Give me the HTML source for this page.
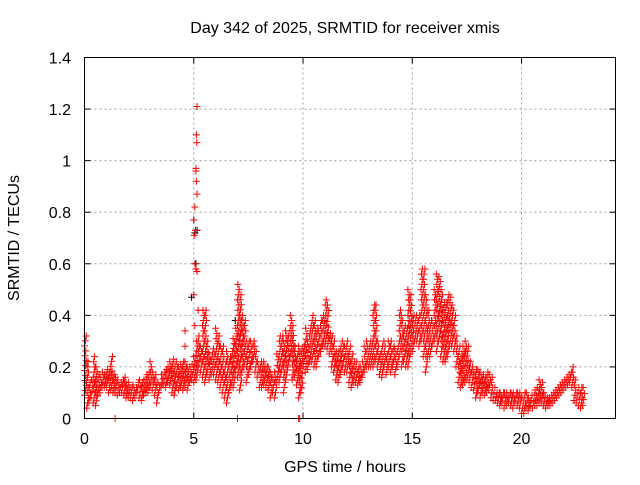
<!DOCTYPE html>
<html><head><meta charset="utf-8"><style>
body{margin:0;background:#fff}
svg text{font-family:"Liberation Sans",sans-serif;fill:#000}
</style></head><body>
<svg id="chart" width="640" height="480" viewBox="0 0 640 480" xmlns="http://www.w3.org/2000/svg">
<rect width="640" height="480" fill="#fff"/>
<text x="345" y="33" font-size="16" text-anchor="middle">Day 342 of 2025, SRMTID for receiver xmis</text>
<text transform="translate(19,238) rotate(-90)" font-size="16" text-anchor="middle">SRMTID / TECUs</text>
<text x="345" y="472" font-size="16" text-anchor="middle">GPS time / hours</text>
<g id="grid"></g><g id="ticks"></g><g id="marks"></g>
<rect x="84.5" y="57.5" width="531" height="361" fill="none" stroke="#000" stroke-width="1"/>
</svg>
<script>
const xTicks=[0,5,10,15,20];
const yTicks=[0,0.2,0.4,0.6,0.8,1,1.2,1.4];
const yTickLabels=["0","0.2","0.4","0.6","0.8","1","1.2","1.4"];
const hiVals=[.32,.22,.14,.15,.24,.2,.17,.16,.18,.17,
.19,.18,.24,.17,.16,.15,.14,.15,.16,.13,
.14,.12,.13,.12,.14,.15,.14,.15,.17,.18,
.22,.18,.17,.14,.12,.17,.18,.19,.2,.22,
.23,.2,.22,.2,.21,.22,.22,.2,.2,.21,
.24,.3,.32,.28,.42,.42,.3,.25,.25,.27,
.35,.32,.28,.28,.22,.26,.24,.26,.31,.35,
.52,.48,.4,.38,.3,.3,.3,.3,.28,.22,
.2,.22,.22,.2,.2,.18,.16,.18,.25,.32,
.32,.3,.34,.32,.4,.36,.28,.26,.28,.27,
.28,.35,.3,.36,.4,.38,.35,.34,.38,.4,
.46,.44,.33,.32,.3,.26,.26,.28,.3,.28,
.3,.28,.25,.22,.22,.2,.2,.22,.28,.3,
.28,.3,.44,.44,.3,.25,.28,.3,.25,.3,
.3,.28,.27,.28,.42,.4,.36,.35,.5,.48,
.4,.38,.4,.4,.58,.58,.48,.42,.38,.38,
.5,.56,.55,.5,.45,.45,.48,.47,.44,.4,
.32,.28,.25,.28,.3,.28,.22,.2,.18,.19,
.19,.18,.17,.16,.18,.17,.16,.12,.1,.1,
.1,.1,.1,.1,.1,.1,.1,.1,.1,.1,
.08,.1,.1,.08,.09,.09,.11,.12,.15,.14,
.1,.08,.08,.09,.1,.11,.12,.13,.14,.15,
.16,.17,.18,.2,.15,.1,.12,.12,.12];
const loVals=[.09,.04,.06,.08,.06,.05,.09,.1,.12,.12,
.12,.1,.11,.1,.1,.09,.1,.1,.09,.08,
.08,.08,.07,.08,.1,.08,.07,.09,.1,.1,
.12,.11,.09,.06,.1,.12,.13,.12,.14,.13,
.1,.09,.12,.11,.12,.11,.12,.11,.14,.15,
.14,.15,.2,.18,.16,.14,.17,.15,.17,.17,
.15,.14,.12,.1,.08,.06,.1,.12,.12,.18,
.16,.11,.18,.2,.14,.17,.2,.22,.18,.16,
.12,.12,.13,.12,.11,.08,.1,.08,.14,.14,
.18,.1,.15,.2,.24,.15,.16,.13,.08,.1,
.2,.18,.19,.22,.22,.2,.2,.24,.26,.28,
.28,.27,.25,.2,.18,.15,.14,.17,.2,.18,
.18,.14,.12,.14,.14,.13,.14,.16,.18,.2,
.2,.2,.2,.22,.2,.17,.16,.2,.17,.2,
.18,.2,.17,.2,.24,.2,.22,.2,.2,.25,
.26,.3,.3,.28,.3,.24,.18,.24,.24,.28,
.3,.26,.3,.24,.22,.22,.24,.28,.28,.26,
.2,.14,.12,.13,.14,.15,.14,.12,.11,.08,
.1,.08,.1,.09,.1,.11,.08,.07,.07,.06,
.05,.06,.04,.05,.06,.05,.04,.06,.05,.04,
.02,.02,.04,.03,.05,.04,.05,.05,.06,.06,
.05,.04,.05,.05,.06,.07,.08,.09,.1,.11,
.12,.13,.14,.12,.07,.06,.05,.04,.05];
const extraTimes=[5.0,5.02,5.05,5.1,5.1,5.12,5.15,5.12,5.14,5.15,5.05,5.08,5.1,5.0,5.15,5.2,5.05,4.6,4.6,1.4,7.0,9.8,9.85];
const extraVals=[.77,.71,.6,.96,.97,.92,.87,1.1,1.07,1.21,.82,.73,.58,.48,.57,.42,.36,.28,.34,0,0,0,0];
const blackTimes=[5.0,5.05,5.15,5.1,4.9,6.9];
const blackVals=[.77,.72,.73,.6,.47,.38];

const X0=84.5,X1=615.5,Y0=418.5,Y1=57.5,XMAX=24.3,YMAX=1.4;
const xs=v=>X0+(X1-X0)*v/XMAX;
const ys=v=>Y0-(Y0-Y1)*v/YMAX;
const NS="http://www.w3.org/2000/svg";
const grid=document.getElementById('grid'),ticks=document.getElementById('ticks'),marks=document.getElementById('marks');
function mk(tag,at,p){const e=document.createElementNS(NS,tag);for(const k in at)e.setAttribute(k,at[k]);p.appendChild(e);return e;}
xTicks.forEach(t=>{
 const x=xs(t);
 if(t>0){const g=mk('line',{x1:x,x2:x,y1:Y1,y2:Y0,stroke:'#a0a0a0','stroke-dasharray':'2,3'},grid);
 
 }
 mk('line',{x1:x,x2:x,y1:Y0,y2:Y0-6,stroke:'#000'},ticks);
 mk('line',{x1:x,x2:x,y1:Y1,y2:Y1+6,stroke:'#000'},ticks);
 const l=mk('text',{x:x,y:444,'font-size':16,'text-anchor':'middle'},ticks);l.textContent=t;
 
 
});
yTicks.forEach((t,i)=>{
 const y=ys(t);
 if(t>0&&t<YMAX){const g=mk('line',{x1:X0,x2:X1,y1:y,y2:y,stroke:'#a0a0a0','stroke-dasharray':'2,3'},grid);
 
 }
 mk('line',{x1:X0,x2:X0+6,y1:y,y2:y,stroke:'#000'},ticks);
 mk('line',{x1:X1,x2:X1-6,y1:y,y2:y,stroke:'#000'},ticks);
 const l=mk('text',{x:71,y:y+6,'font-size':16,'text-anchor':'end'},ticks);l.textContent=yTickLabels[i];
 
 
});
function plus(t,v,c){
 const x=xs(t),y=ys(v);
 const p=mk('path',{d:`M${x-3.5},${y}h7M${x},${y-3.5}v7`,stroke:c,'stroke-width':1,fill:'none'},marks);
 
 
}
blackTimes.forEach((t,i)=>plus(t,blackVals[i],'#000'));
hiVals.forEach((h,i)=>{
 const t=i*0.1,lo=loVals[i];
 const n=Math.max(1,Math.round((h-lo)/0.02));
 for(let k=0;k<=n;k++){
  const v=lo+(h-lo)*k/n;
  plus(t+0.1*((k*7)%5)/5,v,'#f00');
 }
});
extraTimes.forEach((t,i)=>plus(t,extraVals[i],'#f00'));
</script>
</body></html>
